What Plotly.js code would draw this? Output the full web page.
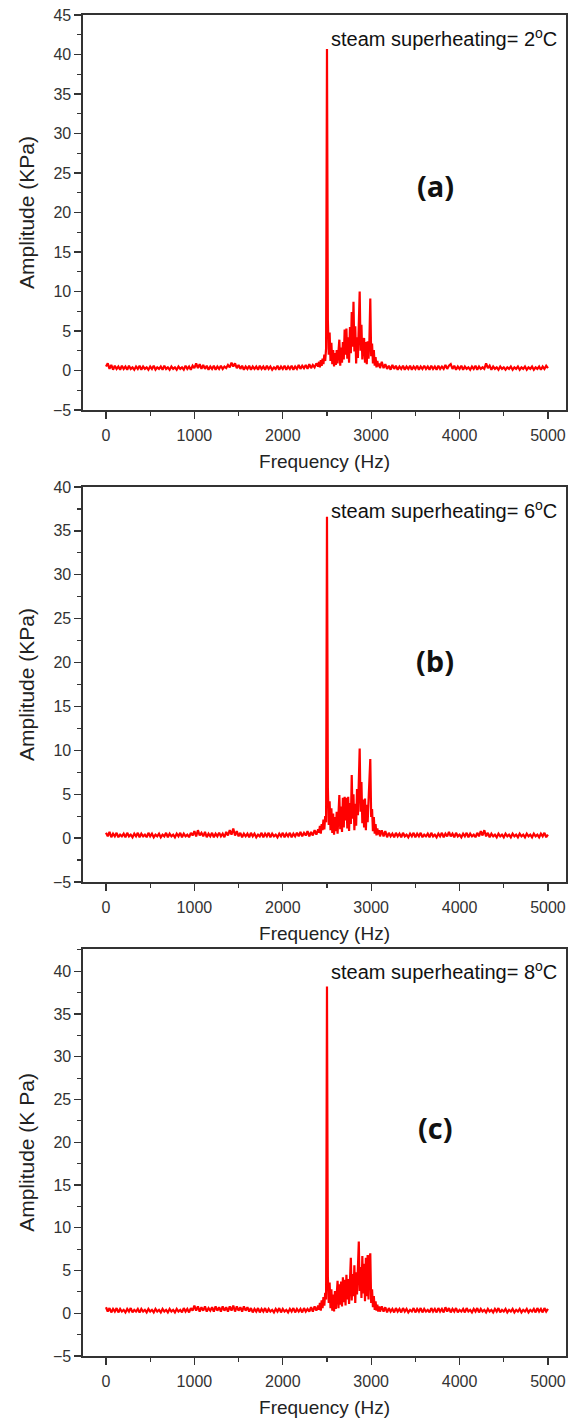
<!DOCTYPE html>
<html>
<head>
<meta charset="utf-8">
<script src="https://cdn.plot.ly/plotly-3.0.1.min.js"></script>
<style>
html,body{margin:0;padding:0;background:#fff;}
#chart{width:571px;height:1422px;}
</style>
</head>
<body>
<div id="chart"></div>
<script>
// Frequency bins (Hz)
const freq = [
0,20,40,60,80,100,120,140,160,180,
200,220,240,260,280,300,320,340,360,380,
400,420,440,460,480,500,520,540,560,580,
600,620,640,660,680,700,720,740,760,780,
800,820,840,860,880,900,920,940,960,980,
1000,1020,1040,1060,1080,1100,1120,1140,1160,1180,
1200,1220,1240,1260,1280,1300,1320,1340,1360,1380,
1400,1420,1440,1460,1480,1500,1520,1540,1560,1580,
1600,1620,1640,1660,1680,1700,1720,1740,1760,1780,
1800,1820,1840,1860,1880,1900,1920,1940,1960,1980,
2000,2020,2040,2060,2080,2100,2120,2140,2160,2180,
2200,2220,2240,2260,2280,2300,2320,2340,2360,2380,
2400,
2410,2420,2430,2440,2450,2460,2470,2480,2490,2500,
2510,2520,2530,2540,2550,2560,2570,2580,2590,2600,
2610,2620,2630,2640,2650,2660,2670,2680,2690,2700,
2710,2720,2730,2740,2750,2760,2770,2780,2790,2800,
2810,2820,2830,2840,2850,2860,2870,2880,2890,2900,
2910,2920,2930,2940,2950,2960,2970,2980,2990,3000,
3010,3020,3030,3040,3050,3060,3070,3080,3090,3100,
3120,3140,3160,3180,3200,3220,3240,3260,3280,3300,
3320,3340,3360,3380,3400,3420,3440,3460,3480,3500,
3520,3540,3560,3580,3600,3620,3640,3660,3680,3700,
3720,3740,3760,3780,3800,3820,3840,3860,3880,3900,
3920,3940,3960,3980,4000,4020,4040,4060,4080,4100,
4120,4140,4160,4180,4200,4220,4240,4260,4280,4300,
4320,4340,4360,4380,4400,4420,4440,4460,4480,4500,
4520,4540,4560,4580,4600,4620,4640,4660,4680,4700,
4720,4740,4760,4780,4800,4820,4840,4860,4880,4900,
4920,4940,4960,4980,5000
];

// (a) steam superheating = 2 °C, amplitude (KPa)
const ampA = [
0.5,0.9,0.2,0.7,0.1,0.6,0.2,0.5,0.1,0.6,
0.2,0.5,0.1,0.6,0.2,0.4,0.1,0.5,0.2,0.6,
0.1,0.5,0.2,0.4,0.1,0.5,0.2,0.6,0.1,0.4,
0.2,0.5,0.1,0.6,0.2,0.4,0.1,0.5,0.2,0.4,
0.1,0.5,0.2,0.4,0.1,0.6,0.2,0.5,0.1,0.6,
0.3,0.9,0.3,0.8,0.2,0.7,0.2,0.6,0.1,0.5,
0.2,0.6,0.1,0.5,0.2,0.6,0.2,0.5,0.3,0.7,
0.4,1.0,0.5,0.9,0.3,0.7,0.2,0.6,0.1,0.5,
0.2,0.6,0.1,0.5,0.2,0.5,0.1,0.6,0.2,0.5,
0.1,0.6,0.2,0.5,0.1,0.4,0.2,0.6,0.1,0.5,
0.2,0.6,0.1,0.5,0.2,0.6,0.1,0.5,0.2,0.7,
0.2,0.6,0.3,0.7,0.2,0.8,0.3,0.7,0.4,0.9,
0.5,
1.1,0.4,1.3,0.6,1.5,0.8,2.0,1.2,2.8,40.7,
6.4,2.0,4.8,1.2,3.5,0.8,2.6,0.5,2.2,0.7,
2.6,0.9,3.2,3.9,0.6,2.9,1.0,3.6,1.4,5.2,
2.0,5.3,1.5,4.2,1.0,5.5,2.2,7.4,3.0,8.7,
2.4,5.6,0.9,4.2,1.6,6.5,10.0,2.5,5.8,1.4,
3.8,4.1,1.0,3.6,0.8,3.7,1.5,3.9,9.1,1.8,
3.4,0.9,2.6,0.6,1.7,0.4,1.2,0.5,0.9,0.3,
1.1,0.3,0.8,0.2,0.6,0.1,0.7,0.2,0.6,0.1,
0.5,0.2,0.6,0.1,0.5,0.2,0.6,0.1,0.5,0.2,
0.6,0.1,0.5,0.2,0.6,0.2,0.5,0.1,0.6,0.2,
0.5,0.1,0.6,0.2,0.5,0.2,0.7,0.2,0.6,0.8,
0.2,0.6,0.1,0.5,0.2,0.6,0.1,0.5,0.2,0.4,
0.1,0.5,0.2,0.6,0.1,0.5,0.2,0.4,0.2,0.9,
0.3,0.6,0.1,0.5,0.2,0.4,0.1,0.5,0.2,0.4,
0.1,0.4,0.2,0.5,0.1,0.4,0.2,0.5,0.1,0.4,
0.2,0.5,0.1,0.4,0.2,0.5,0.1,0.4,0.2,0.5,
0.1,0.5,0.2,0.6,0.3
];

// (b) steam superheating = 6 °C
const ampB = [
0.6,0.2,0.7,0.1,0.5,0.2,0.6,0.1,0.4,0.2,
0.5,0.1,0.6,0.2,0.4,0.1,0.5,0.2,0.6,0.1,
0.5,0.2,0.4,0.1,0.6,0.2,0.5,0.1,0.4,0.2,
0.5,0.1,0.4,0.2,0.6,0.1,0.5,0.2,0.4,0.1,
0.5,0.2,0.6,0.1,0.5,0.2,0.4,0.1,0.6,0.3,
0.8,0.2,0.9,0.3,0.6,0.2,0.7,0.1,0.5,0.2,
0.6,0.1,0.5,0.2,0.6,0.2,0.5,0.1,0.7,0.3,
0.9,0.4,1.1,0.3,0.8,0.2,0.6,0.1,0.5,0.2,
0.5,0.1,0.6,0.2,0.5,0.1,0.4,0.2,0.6,0.1,
0.5,0.2,0.6,0.1,0.5,0.2,0.4,0.1,0.5,0.2,
0.6,0.1,0.5,0.2,0.6,0.1,0.5,0.2,0.6,0.2,
0.7,0.2,0.6,0.3,0.8,0.2,0.7,0.3,0.9,0.4,
1.0,
0.6,1.4,0.5,1.6,0.9,2.1,1.0,2.5,1.8,36.6,
5.8,1.5,4.2,0.9,3.4,0.6,2.8,0.4,2.4,0.8,
3.0,0.5,3.8,4.9,1.0,3.6,0.7,4.6,1.2,4.7,
2.0,4.6,1.1,4.7,0.8,4.0,1.6,7.2,2.2,5.0,
0.9,3.9,1.4,5.6,2.6,8.0,10.2,3.0,6.4,1.7,
4.4,1.2,4.5,0.9,3.8,1.8,4.6,5.5,9.0,2.4,
3.3,0.8,2.4,0.5,1.6,0.3,1.1,0.4,0.9,0.2,
0.9,0.2,0.8,0.1,0.6,0.2,0.5,0.1,0.6,0.2,
0.5,0.1,0.6,0.2,0.4,0.1,0.5,0.2,0.6,0.1,
0.5,0.2,0.6,0.1,0.4,0.2,0.5,0.1,0.6,0.2,
0.4,0.1,0.5,0.2,0.6,0.1,0.5,0.2,0.7,0.2,
0.5,0.1,0.6,0.2,0.4,0.1,0.5,0.2,0.6,0.1,
0.5,0.2,0.4,0.1,0.6,0.2,0.8,0.3,0.9,0.2,
0.6,0.1,0.5,0.2,0.4,0.1,0.5,0.2,0.4,0.1,
0.5,0.2,0.4,0.1,0.5,0.2,0.4,0.1,0.5,0.2,
0.4,0.1,0.5,0.2,0.4,0.1,0.5,0.2,0.4,0.1,
0.5,0.2,0.6,0.1,0.4
];

// (c) steam superheating = 8 °C
const ampC = [
0.7,0.2,0.6,0.1,0.5,0.2,0.6,0.1,0.5,0.2,
0.4,0.1,0.5,0.2,0.6,0.1,0.4,0.2,0.5,0.1,
0.5,0.2,0.4,0.1,0.5,0.2,0.4,0.1,0.5,0.2,
0.4,0.1,0.5,0.2,0.4,0.1,0.5,0.2,0.4,0.1,
0.5,0.2,0.4,0.1,0.6,0.2,0.5,0.1,0.6,0.3,
0.9,0.3,0.8,0.2,0.7,0.3,0.8,0.2,0.6,0.3,
0.7,0.2,0.8,0.3,0.7,0.2,0.8,0.3,0.7,0.2,
0.8,0.3,0.9,0.2,0.8,0.3,0.7,0.2,0.8,0.3,
0.7,0.2,0.6,0.1,0.5,0.2,0.6,0.1,0.5,0.2,
0.6,0.1,0.5,0.2,0.4,0.1,0.5,0.2,0.6,0.1,
0.5,0.2,0.4,0.1,0.5,0.2,0.6,0.1,0.5,0.2,
0.5,0.1,0.6,0.2,0.5,0.2,0.7,0.2,0.8,0.3,
0.9,
0.4,1.2,0.3,1.5,0.6,1.9,0.9,2.4,1.6,38.2,
4.3,1.2,3.6,0.6,2.8,0.3,2.2,0.2,2.6,0.5,
3.0,3.8,0.6,3.4,1.0,3.7,0.8,4.2,1.3,3.9,
0.9,4.5,1.6,4.0,1.1,5.2,6.5,1.5,4.6,2.0,
5.6,1.2,4.8,2.2,6.2,8.4,2.6,5.4,1.8,6.7,
2.3,5.8,1.4,6.5,2.0,6.8,1.6,6.4,7.0,1.2,
2.8,0.7,2.0,0.4,1.4,0.3,1.0,0.2,0.8,0.2,
0.8,0.2,0.7,0.1,0.6,0.2,0.5,0.1,0.6,0.2,
0.5,0.1,0.6,0.2,0.5,0.1,0.4,0.2,0.6,0.1,
0.5,0.2,0.6,0.1,0.5,0.2,0.4,0.1,0.6,0.2,
0.5,0.1,0.6,0.2,0.5,0.1,0.7,0.2,0.6,0.1,
0.5,0.2,0.6,0.1,0.4,0.2,0.5,0.1,0.6,0.2,
0.4,0.1,0.5,0.2,0.6,0.1,0.5,0.2,0.4,0.1,
0.5,0.2,0.4,0.1,0.5,0.2,0.6,0.1,0.4,0.2,
0.5,0.1,0.4,0.2,0.5,0.1,0.4,0.2,0.5,0.1,
0.4,0.2,0.5,0.1,0.4,0.2,0.5,0.1,0.6,0.2,
0.5,0.1,0.6,0.2,0.5
];

const panelLabels = ["(a)", "(b)", "(c)"];
const superheat = ["2", "6", "8"];
const yTitles = ["Amplitude (KPa)", "Amplitude (KPa)", "Amplitude (K Pa)"];
const xTitle = "Frequency (Hz)";
const yRanges = [[-5, 45], [-5, 40], [-5, 42.6]];

const W = 571, H = 1422;
const xDom = [83 / W, 566 / W];
// panel pixel top/bottom
const panelPx = [[15, 410], [487, 882], [949, 1356]];
const yDoms = panelPx.map(p => [1 - p[1] / H, 1 - p[0] / H]);

const series = [ampA, ampB, ampC];
const sfx = ["", "2", "3"];

const traces = series.map((amp, i) => ({
  x: freq, y: amp, type: "scatter", mode: "lines",
  xaxis: "x" + sfx[i], yaxis: "y" + sfx[i],
  line: {color: "#ff0000", width: 2.2},
  hoverinfo: "skip", showlegend: false
}));

const FAM = "'Liberation Sans', Arial, sans-serif";
const tickFont = {family: FAM, size: 16, color: "#333"};
const xTitleFont = {family: FAM, size: 19, color: "#222"};
const yTitleFont = {family: FAM, size: 21, color: "#222"};

const layout = {
  width: W, height: H,
  margin: {l: 0, r: 0, t: 0, b: 0},
  paper_bgcolor: "#fff", plot_bgcolor: "#fff",
  showlegend: false,
  annotations: []
};

for (let i = 0; i < 3; i++) {
  const xa = {
    domain: xDom, anchor: "y" + sfx[i],
    range: [-260, 5204], tick0: 0, dtick: 1000,
    ticks: "outside", ticklen: 7, tickwidth: 1.3, tickcolor: "#333",
    minor: {ticks: "outside", ticklen: 4, dtick: 500, tick0: 0, tickcolor: "#333", tickwidth: 1.2, showgrid: false},
    showline: true, linecolor: "#333", linewidth: 1.6, mirror: true,
    showgrid: false, zeroline: false,
    tickfont: tickFont, ticklabelstandoff: 3,
    title: {text: xTitle, font: xTitleFont, standoff: 12}
  };
  const ya = {
    domain: yDoms[i], anchor: "x" + sfx[i],
    range: yRanges[i], tick0: 0, dtick: 5,
    ticks: "outside", ticklen: 7, tickwidth: 1.3, tickcolor: "#333",
    minor: {ticks: "outside", ticklen: 4, dtick: 2.5, tick0: 0, tickcolor: "#333", tickwidth: 1.2, showgrid: false},
    showline: true, linecolor: "#333", linewidth: 1.6, mirror: true,
    showgrid: false, zeroline: false,
    tickfont: tickFont,
    title: {text: yTitles[i], font: yTitleFont, standoff: 12}
  };
  layout["xaxis" + sfx[i]] = xa;
  layout["yaxis" + sfx[i]] = ya;

  const topPx = panelPx[i][0];
  layout.annotations.push({
    xref: "paper", yref: "paper",
    x: 559 / W, y: 1 - (topPx + 22) / H,
    xanchor: "right", yanchor: "middle", showarrow: false,
    text: "steam superheating= " + superheat[i] + "<sup>o</sup>C",
    font: {family: FAM, size: 20, color: "#111"}
  });
  const labY = [185, 660, 1127][i];
  layout.annotations.push({
    xref: "paper", yref: "paper",
    x: 435 / W, y: 1 - labY / H,
    xanchor: "center", yanchor: "middle", showarrow: false,
    text: "<b>" + panelLabels[i] + "</b>",
    font: {family: "'Open Sans', sans-serif", size: 29, color: "#111"}
  });
}

Plotly.newPlot("chart", traces, layout, {staticPlot: true, displayModeBar: false});
</script>
</body>
</html>
